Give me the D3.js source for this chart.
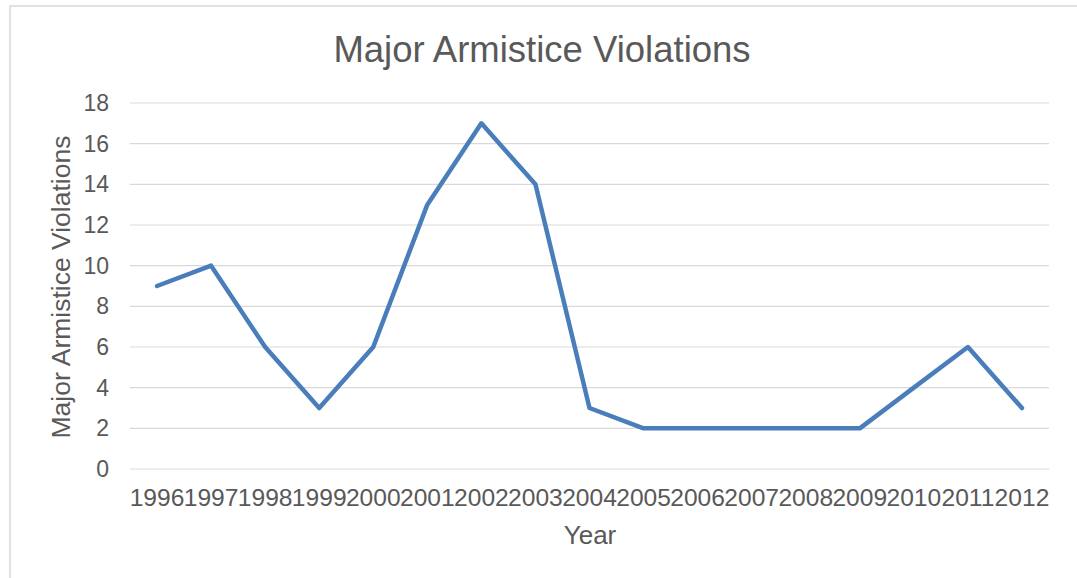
<!DOCTYPE html>
<html>
<head>
<meta charset="utf-8">
<script src="https://cdn.jsdelivr.net/npm/d3@7"></script>
<style>
  html, body { margin: 0; padding: 0; background: #fff; }
  svg { display: block; font-family: "Liberation Sans", Arial, sans-serif; }
</style>
</head>
<body>
<svg id="chart" width="1077" height="578"></svg>
<script>
// Yearly counts of major armistice violations
const years = ["1996","1997","1998","1999","2000","2001","2002","2003","2004",
               "2005","2006","2007","2008","2009","2010","2011","2012"];
const violations = [9, 10, 6, 3, 6, 13, 17, 14, 3, 2, 2, 2, 2, 2, 4, 6, 3];
const yTicks = [0, 2, 4, 6, 8, 10, 12, 14, 16, 18];

const svg = d3.select("#chart");
const W = 1077, H = 578;
const plot = { left: 130, right: 1049, top: 103, bottom: 469 };
const textColor = "#595959";

// Chart frame
svg.append("rect")
  .attr("x", 10).attr("y", 6)
  .attr("width", W + 20).attr("height", H + 20)
  .attr("fill", "#fff")
  .attr("stroke", "#d9d9d9").attr("stroke-width", 1.5);

const x = d3.scaleBand().domain(years).range([plot.left, plot.right]);
const y = d3.scaleLinear().domain([0, 18]).range([plot.bottom, plot.top]);

// Horizontal gridlines
svg.append("g")
  .selectAll("line")
  .data(yTicks)
  .join("line")
  .attr("x1", plot.left).attr("x2", plot.right)
  .attr("y1", d => y(d)).attr("y2", d => y(d))
  .attr("stroke", "#d9d9d9").attr("stroke-width", 1.2);

// Y axis labels
const yAxis = svg.append("g")
  .attr("transform", `translate(${plot.left - 21},0)`)
  .call(d3.axisLeft(y).tickValues(yTicks).tickSize(0).tickPadding(0));
yAxis.select(".domain").remove();
yAxis.selectAll("text")
  .attr("fill", textColor)
  .style("font-size", "23px")
  .style("font-family", "'Liberation Sans', Arial, sans-serif");

// X axis labels
const xAxis = svg.append("g")
  .attr("transform", `translate(0,${plot.bottom})`)
  .call(d3.axisBottom(x).tickSize(0).tickPadding(20));
xAxis.select(".domain").remove();
xAxis.selectAll("text")
  .attr("fill", textColor)
  .style("font-size", "24.6px")
  .style("font-family", "'Liberation Sans', Arial, sans-serif");

// Data line
const line = d3.line()
  .x((d, i) => x(years[i]) + x.bandwidth() / 2)
  .y(d => y(d));

svg.append("path")
  .datum(violations)
  .attr("d", line)
  .attr("fill", "none")
  .attr("stroke", "#4a7ebb")
  .attr("stroke-width", 4.5)
  .attr("stroke-linejoin", "round")
  .attr("stroke-linecap", "round");

// Title
svg.append("text")
  .attr("x", 542).attr("y", 62)
  .attr("text-anchor", "middle")
  .attr("fill", textColor)
  .style("font-size", "36.5px")
  .text("Major Armistice Violations");

// Axis titles
svg.append("text")
  .attr("x", 590).attr("y", 544)
  .attr("text-anchor", "middle")
  .attr("fill", textColor)
  .style("font-size", "26px")
  .text("Year");

svg.append("text")
  .attr("transform", `translate(70,${(plot.top + plot.bottom) / 2 + 1}) rotate(-90)`)
  .attr("text-anchor", "middle")
  .attr("fill", textColor)
  .style("font-size", "26.5px")
  .text("Major Armistice Violations");
</script>
</body>
</html>
